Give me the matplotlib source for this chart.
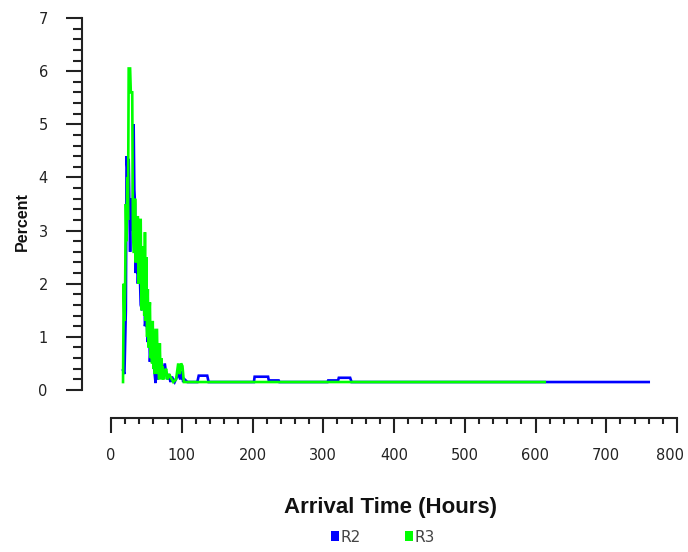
import matplotlib
matplotlib.use("Agg")
import matplotlib.pyplot as plt
from matplotlib.patches import Patch
from matplotlib.ticker import MultipleLocator
from matplotlib.transforms import ScaledTranslation

# ---- data ----
r2_hours = [17, 19, 21, 22, 24, 25, 27, 28, 29,
            31, 32, 33, 34, 35, 36, 38, 40, 42, 44,
            45, 46, 47, 48, 50, 52, 54, 55, 57, 58,
            60, 61, 63, 64, 66, 68, 70, 73, 74, 76,
            78, 80, 82, 84, 86, 90, 95, 98, 100, 102,
            104, 108, 122, 124, 136, 138, 202, 203, 222, 223,
            237, 238, 306, 307, 321, 322, 338, 340, 760]
r2_pct = [0.37, 0.30, 1.50, 4.40, 4.00, 4.35, 2.60, 3.60, 3.00,
          3.60, 5.00, 3.76, 3.50, 2.20, 2.70, 2.00, 2.50, 1.60, 1.50,
          2.30, 1.80, 2.30, 1.20, 1.40, 0.90, 1.20, 0.53, 0.98, 0.75,
          0.98, 0.40, 0.13, 0.37, 0.20, 0.47, 0.25, 0.45, 0.30, 0.50,
          0.30, 0.20, 0.30, 0.15, 0.25, 0.15, 0.30, 0.20, 0.35, 0.15,
          0.20, 0.15, 0.15, 0.27, 0.27, 0.15, 0.15, 0.25, 0.25, 0.18,
          0.18, 0.15, 0.15, 0.18, 0.18, 0.23, 0.23, 0.15, 0.15]

r3_hours = [17, 18, 19, 20, 21, 22, 23, 24, 25, 27,
            28, 30, 31, 32, 33, 34, 35, 36, 38, 39,
            40, 42, 43, 44, 45, 46, 47, 48, 49, 50,
            51, 52, 53, 54, 55, 56, 57, 58, 59, 60,
            61, 62, 63, 65, 66, 67, 68, 69, 70, 71,
            72, 73, 75, 76, 78, 80, 82, 84, 86, 88,
            92, 95, 97, 99, 101, 103, 613]
r3_pct = [0.15, 2.00, 1.30, 2.00, 3.50, 2.80, 4.00, 3.20, 6.05, 6.05,
          5.60, 5.60, 3.00, 2.60, 2.60, 3.60, 2.40, 3.25, 3.25, 2.00,
          3.20, 3.20, 1.50, 2.70, 1.60, 2.40, 1.40, 2.97, 1.30, 2.50,
          1.00, 1.90, 0.80, 1.40, 1.65, 0.60, 1.20, 0.50, 1.30, 0.40,
          0.90, 0.30, 1.13, 1.13, 0.30, 0.75, 0.20, 0.88, 0.30, 0.60,
          0.20, 0.45, 0.20, 0.35, 0.40, 0.20, 0.30, 0.25, 0.20, 0.15,
          0.20, 0.50, 0.30, 0.50, 0.45, 0.15, 0.15]

series_names = ["R2", "R3"]
series_colors = ["#0000ff", "#00ff00"]

x_ticks = [0, 100, 200, 300, 400, 500, 600, 700, 800]
y_ticks = [0, 1, 2, 3, 4, 5, 6, 7]

# ---- figure ----
W, H = 688, 552
fig = plt.figure(figsize=(W / 100, H / 100), dpi=100)
ax = fig.add_axes([111 / W, (H - 390) / H, (677 - 111) / W, (390 - 18) / H])

ax.plot(r2_hours, r2_pct, color=series_colors[0], lw=1.9, solid_joinstyle="miter", zorder=2)
ax.plot(r3_hours, r3_pct, color=series_colors[1], lw=1.9, solid_joinstyle="miter", zorder=3)

ax.set_xlim(0, 800)
ax.set_ylim(0, 7)

for s in ("top", "right"):
    ax.spines[s].set_visible(False)
ax.spines["left"].set_position(("outward", 21))
ax.spines["bottom"].set_position(("outward", 20.5))
ax.spines["left"].set_bounds(0, 7)
ax.spines["bottom"].set_bounds(0, 800)
for s in ("left", "bottom"):
    ax.spines[s].set_linewidth(1.5)
    ax.spines[s].set_color("#222222")

ax.set_xticks(x_ticks)
ax.set_yticks(y_ticks)
ax.xaxis.set_minor_locator(MultipleLocator(20))
ax.yaxis.set_minor_locator(MultipleLocator(0.2))
ax.tick_params(axis="x", which="major", direction="out", length=11, width=1.5,
               color="#222222", pad=10, labelsize=10.5, labelcolor="#222222")
ax.tick_params(axis="x", which="minor", direction="out", length=4.5, width=1.5, color="#222222")
ax.tick_params(axis="y", which="major", direction="out", length=11.5, width=1.5,
               color="#222222", pad=13, labelsize=10.5, labelcolor="#222222")
ax.tick_params(axis="y", which="minor", direction="out", length=6.5, width=1.5, color="#222222")
for lab in ax.get_xticklabels() + ax.get_yticklabels():
    lab.set_family("DejaVu Sans")
xlabels = ax.get_xticklabels()
xlabels[-1].set_transform(xlabels[-1].get_transform()
                          + ScaledTranslation(-7 / 100, 0, fig.dpi_scale_trans))

fig.text(22 / W, 1 - 222 / H, "Percent", rotation=90, ha="center", va="center",
         fontsize=11.5, fontweight="bold", family="Liberation Sans", color="#111111")
fig.text(390 / W, 1 - 508 / H, "Arrival Time (Hours)", ha="center", va="center",
         fontsize=16, fontweight="bold", family="Liberation Sans", color="#111111")

handles = [Patch(facecolor=c, edgecolor="none") for c in series_colors]
leg = fig.legend(handles, series_names, loc="center", bbox_to_anchor=(383 / W, 1 - 537 / H),
                 ncol=2, frameon=False, fontsize=11, handlelength=0.5, handleheight=0.55,
                 handletextpad=0.12, columnspacing=2.9, borderpad=0)
for t in leg.get_texts():
    t.set_color("#444444")

fig.savefig("out.png", dpi=100)
